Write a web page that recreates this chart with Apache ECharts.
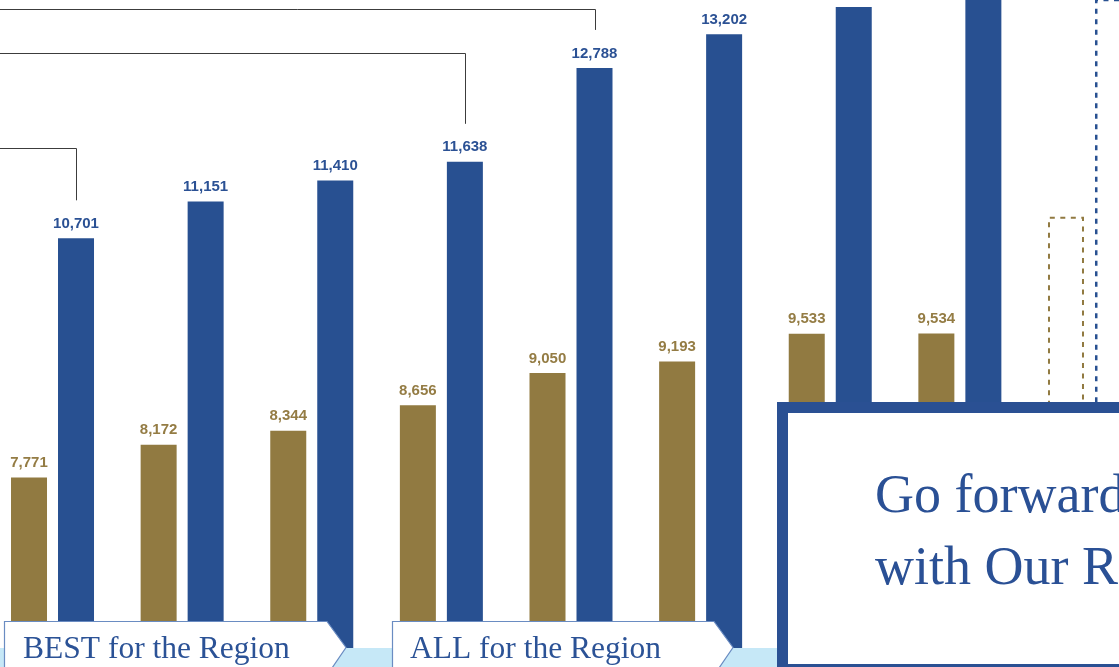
<!DOCTYPE html>
<html><head><meta charset="utf-8">
<script src="https://cdn.jsdelivr.net/npm/echarts@6/dist/echarts.min.js"></script>
<style>html,body{margin:0;padding:0;background:#fff;overflow:hidden}#c{width:1119px;height:667px}</style>
</head><body><div id="c"></div>
<script>
// ---- data ----
const categories = ['P1', 'P2', 'P3', 'P4', 'P5', 'P6', 'P7', 'P8', 'P9'];
const goldValues = [7771, 8172, 8344, 8656, 9050, 9193, 9533, 9534, 10966];
const blueValues = [10701, 11151, 11410, 11638, 12788, 13202, 13535, 13900, 14600];
const projectedIndex = 8;            // last pair is a dashed (projected) target
const bracketTargets = [0, 3, 4];    // blue bars that the brackets point to
const bracketLevels = [11808, 12971, 13510];
const bannerLabels = ['BEST for the Region', 'ALL for the Region'];
const messageLines = ['Go forward', 'with Our Region'];

// ---- style ----
const GOLD = '#917a41', BLUE = '#285091';
const GOLD_TXT = '#947c44', BLUE_TXT = '#2b5194';
const BAR_W = 36, GAP = 11;

const chart = echarts.init(document.getElementById('c'), null, {renderer: 'canvas'});

function fmt(v) { return v.toLocaleString('en-US'); }

function makeData(vals, color) {
  return vals.map((v, i) => {
    if (i === projectedIndex) {
      return {
        value: v,
        itemStyle: {color: 'rgba(0,0,0,0)', borderColor: color, borderWidth: color === BLUE ? 2.5 : 2, borderType: [5, 5.5]},
        label: {show: false}
      };
    }
    return v;
  });
}

const labelBase = {
  show: true, position: 'top', distance: 7,
  fontFamily: 'Liberation Sans', fontWeight: 'bold', fontSize: 15,
  formatter: p => fmt(p.value)
};

chart.setOption({
  animation: false,
  backgroundColor: '#ffffff',
  grid: {left: -12.3, right: -35.3, top: 0, bottom: -445, containLabel: false, outerBoundsMode: 'none'},
  xAxis: {type: 'category', data: categories, show: false},
  yAxis: {type: 'value', min: 0, max: 13620, show: false, splitLine: {show: false}},
  series: [
    {type: 'bar', name: 'gold', data: makeData(goldValues, GOLD), barWidth: BAR_W, barGap: (GAP / BAR_W * 100) + '%',
     itemStyle: {color: GOLD}, label: Object.assign({color: GOLD_TXT}, labelBase), z: 2},
    {type: 'bar', name: 'blue', data: makeData(blueValues, BLUE), barWidth: BAR_W,
     itemStyle: {color: BLUE}, label: Object.assign({color: BLUE_TXT}, labelBase), z: 2}
  ]
});

// ---- overlays computed from the axes ----
const offset = (BAR_W + GAP) / 2;
const graphics = [];
bracketTargets.forEach((idx, k) => {
  const xc = chart.convertToPixel({xAxisIndex: 0}, idx) + offset;
  const topY = chart.convertToPixel({yAxisIndex: 0}, blueValues[idx]);
  const levelY = Math.round(chart.convertToPixel({yAxisIndex: 0}, bracketLevels[k])) + 0.5;
  const x = Math.round(xc) + 0.5;
  graphics.push({
    type: 'polyline', z: 5, silent: true,
    shape: {points: [[0, levelY], [x, levelY], [x, topY - 38]]},
    style: {stroke: '#3c3c3c', lineWidth: 1, fill: null}
  });
});

// light blue floor strip
graphics.push({type: 'rect', z: 10, shape: {x: 0, y: 648, width: 778, height: 19}, style: {fill: '#c6e8f7'}});

// banners
const bannerShapes = [
  [[4.5, 621.5], [327, 621.5], [346, 647.5], [332, 668], [4.5, 668]],
  [[392.5, 621.5], [714, 621.5], [733, 647.5], [719, 668], [392.5, 668]]
];
const bannerTextX = [23, 410];
bannerShapes.forEach((pts, i) => {
  graphics.push({type: 'polygon', z: 20, shape: {points: pts}, style: {fill: '#ffffff', stroke: '#6a8cc2', lineWidth: 1.2}});
  graphics.push({type: 'text', z: 21, x: bannerTextX[i], y: 658 - 0.78 * 31.5,
    style: {text: bannerLabels[i], fill: '#2b5296', font: '31.5px "Liberation Serif"', verticalAlign: 'top'}});
});

// message box
graphics.push({type: 'rect', z: 30, shape: {x: 782.5, y: 407.5, width: 500, height: 262}, style: {fill: '#ffffff', stroke: '#2a5093', lineWidth: 11}});
messageLines.forEach((t, i) => {
  graphics.push({type: 'text', z: 31, x: 875, y: 513 + i * 72 - 0.78 * 54,
    style: {text: t, fill: '#2a5095', font: '54px "Liberation Serif"', verticalAlign: 'top'}});
});

chart.setOption({graphic: graphics});
</script>
</body></html>
